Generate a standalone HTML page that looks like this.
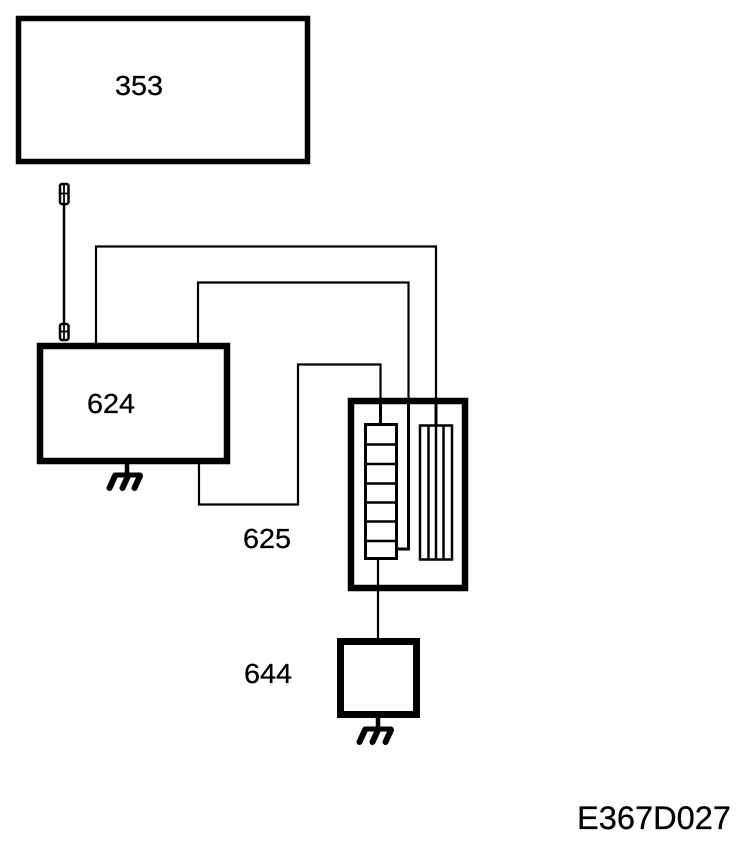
<!DOCTYPE html>
<html>
<head>
<meta charset="utf-8">
<style>
html,body{margin:0;padding:0;background:#fff;}
svg{display:block;}
text{font-family:"Liberation Sans",sans-serif;fill:#000;stroke:#000;stroke-width:.3;}
</style>
</head>
<body>
<svg width="752" height="842" viewBox="0 0 752 842" xmlns="http://www.w3.org/2000/svg">
<g fill="none" stroke="#000">
  <rect x="18.500" y="18.500" width="289" height="143" stroke-width="5.500"/>
  <rect x="40" y="346" width="187" height="115" stroke-width="6.500"/>
  <rect x="351" y="401" width="114" height="187" stroke-width="6.500"/>
  <rect x="340.500" y="641.500" width="76" height="73" stroke-width="7"/>

  <g stroke-width="2.200">
    <path d="M96 344V246.500H436V425"/>
    <path d="M198 344V282.500H408.500V549H397"/>
    <path d="M199 463V504.500H298V364.500H380.500V424"/>
    <path d="M378 559V640"/>
    <path d="M64 204V324" stroke-width="2.500"/>
    <path d="M408.500 400V549H397" stroke-width="3"/>
    <path d="M436 400V425" stroke-width="3"/>
    <path d="M380.500 400V424" stroke-width="3"/>
  </g>

  <rect x="365.500" y="424.500" width="31" height="134" stroke-width="3"/>
  <path d="M366 444.500H396M366 464H396M366 483.500H396M366 502.500H396M366 521.500H396M366 541H396" stroke-width="2.500"/>
  <rect x="420" y="425.500" width="32" height="134" stroke-width="2.500"/>
  <path d="M428.500 426V559M436 426V559M443.500 426V559" stroke-width="2.500"/>

  <rect x="60" y="184" width="8.500" height="20" rx="2" stroke-width="2.500"/>
  <path d="M61 193.500H67.500M64 184V204" stroke-width="1.800"/>
  <rect x="60" y="324" width="8.500" height="16" rx="2" stroke-width="2.500"/>
  <path d="M61 331.500H67.500M64 324V340" stroke-width="1.800"/>

  <path d="M127 464V474" stroke-width="4.500"/>
  <path d="M378 718V729" stroke-width="4.500"/>
  <g stroke-width="6" stroke-linecap="round">
    <path d="M115 475H140" stroke-width="5"/>
    <path d="M115 476L109.500 488M128 476L122.500 488M140 476L134.500 488"/>
    <path d="M365 729H391" stroke-width="5"/>
    <path d="M365 730L359.500 742M378 730L372.500 742M391 730L385.500 742"/>
  </g>
</g>
<text x="115" y="95" font-size="28" textLength="48" lengthAdjust="spacingAndGlyphs">353</text>
<text x="87" y="413" font-size="28" textLength="48" lengthAdjust="spacingAndGlyphs">624</text>
<text x="243" y="548" font-size="28" textLength="48" lengthAdjust="spacingAndGlyphs">625</text>
<text x="244" y="683" font-size="28" textLength="48" lengthAdjust="spacingAndGlyphs">644</text>
<text x="577" y="829" font-size="32" textLength="154" lengthAdjust="spacingAndGlyphs">E367D027</text>
</svg>
</body>
</html>
